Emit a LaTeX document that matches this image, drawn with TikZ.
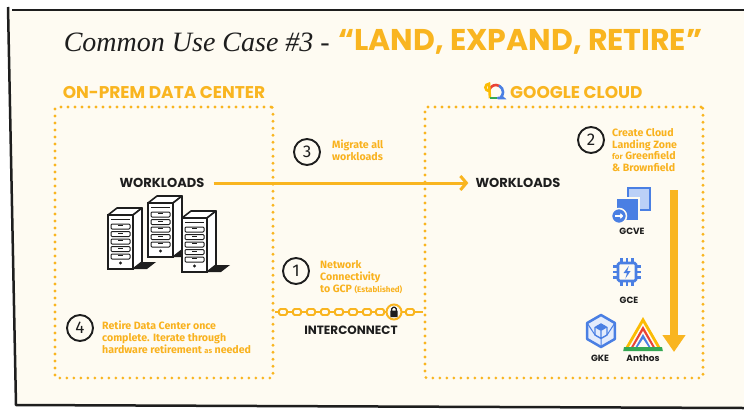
\documentclass[tikz,border=0pt]{standalone}
\usepackage{fontspec}
\setmainfont{Fira Sans}
\newfontfamily\headfont{Poppins}
\newfontfamily\titlefont{Liberation Serif}
\usetikzlibrary{arrows.meta}
\definecolor{gold}{HTML}{F9B520}
\definecolor{cream}{HTML}{FEFBF2}
\definecolor{ink}{HTML}{1E1E1E}
\definecolor{gblue}{HTML}{4A7FE3}
\definecolor{paleblue}{HTML}{BBD0F7}
\definecolor{gred}{HTML}{EA4335}
\definecolor{ggreen}{HTML}{34A853}
\definecolor{gyellow}{HTML}{FBBC04}

\begin{document}
\begin{tikzpicture}[x=1pt,y=-1pt,
    dotbox/.style={draw=gold, line width=3.2pt, line cap=round, dash pattern=on 0pt off 7pt, rounded corners=2pt, inner sep=0pt},
    heading/.style={font=\headfont\bfseries\fontsize{17}{17}\selectfont, text=gold, inner sep=0pt},
    wltext/.style={font=\headfont\bfseries\fontsize{13}{13}\selectfont, text=ink, inner sep=0pt},
    note/.style={font=\bfseries\fontsize{10.6}{11.8}\selectfont, text=gold!95!orange, align=left, inner sep=0pt, anchor=west},
    num/.style={circle, draw=ink, line width=1.9pt, minimum size=26pt, inner sep=0pt, font=\fontsize{17}{17}\selectfont, text=ink},
    icon/.style={font=\headfont\bfseries\fontsize{9}{9}\selectfont, text=ink, inner sep=0pt},
    link/.style={draw=gold, fill=cream, line width=1.8pt, rounded corners=1.5pt, minimum width=8pt, minimum height=6pt, inner sep=0pt},
    rack/.pic={
      \fill[ink] (25,54) -- (34,47) -- (48,47) -- (39,54) -- cycle; %shadow
      \draw[ink, line width=1.6pt, fill=white, line join=round] (0,0) -- (9,-7) -- (34,-7) -- (25,0) -- cycle;
      \draw[ink, line width=1.6pt, fill=white, line join=round] (25,0) -- (34,-7) -- (34,47) -- (25,54) -- cycle;
      \draw[ink, line width=1.6pt, fill=white] (0,0) rectangle (25,54);
      \draw[ink, line width=1pt] (3,4) -- (22,4);
      \foreach \s in {0,...,4} {
        \draw[ink, line width=1pt, rounded corners=1pt] (3,{9+7.5*\s}) rectangle (22,{14+7.5*\s});
        \draw[ink, line width=0.8pt] (10,{10.5+7.5*\s}) -- (15,{10.5+7.5*\s});
      }
      \fill[ink] (12.5,48) circle (1.6pt);
    }
  ]
  \useasboundingbox (0,0) rectangle (744,410);

  %Frame
  \fill[cream] (8,10) -- (744,10) -- (744,408) -- (16,405) -- cycle;
  \draw[ink, line width=2.5pt] (12,10) -- (744,10);
  \draw[ink, line width=2.5pt, line join=round] (8,7) -- (16,405) -- (744,408);

  %Title
  \node[font=\titlefont\itshape\fontsize{28}{28}\selectfont, text=ink, anchor=east, inner sep=0pt] (title) at (330,42) {Common Use Case \#3 -};
  \node[font=\headfont\bfseries\fontsize{30}{30}\selectfont, text=gold, anchor=west, inner sep=0pt] (slogan) at (338,42) {“LAND, EXPAND, RETIRE”};

  %Boxes
  \node[dotbox, minimum width=218pt, minimum height=271pt] (onprem) at (164,242.5) {};
  \node[dotbox, minimum width=278pt, minimum height=271pt] (cloud) at (564,242.5) {};
  \node[heading] (onpremhead) at (164,93) {ON-PREM DATA CENTER};
  \node[heading, anchor=west] (cloudhead) at (510,93) {GOOGLE CLOUD};

  %Cloud logo
  \draw[gred, line width=2.6pt] (489,92) arc (180:300:7);
  \draw[gblue, line width=2.6pt, line cap=round] (499.5,86) arc (300:400:7) -- (503,98) -- (498,98);
  \draw[gyellow, line width=2.6pt] (489,91) arc (90:270:3.6) -- (490,98.2);
  \draw[ggreen, line width=2.6pt] (490,98) -- (497,98);

  %Workloads
  \node[wltext] (wlonprem) at (162,183) {WORKLOADS};
  \node[wltext] (wlcloud) at (518,183) {WORKLOADS};
  \draw[gold, line width=3pt, shorten <=9pt, shorten >=7pt, -{Straight Barb[length=6pt,width=14pt]}] (wlonprem) -- (wlcloud);

  %Servers
  \pic at (148,203) {rack};
  \pic at (108,215) {rack};
  \pic at (182,218) {rack};

  %Steps
  \node[num] (n3) at (307,152) {3};
  \node[note] (t3) at (332,150) {Migrate all\\workloads};
  \node[num] (n1) at (296,271) {1};
  \node[note] (t1) at (320,277) {Network\\Connectivity\\to GCP {\fontsize{8}{11.8}\selectfont(Established)}};
  \node[num] (n2) at (591,140) {2};
  \node[note] (t2) at (612,150) {Create Cloud\\Landing Zone\\{\fontsize{8}{11.8}\selectfont for} Greenfield\\\& Brownfield};
  \node[num] (n4) at (80,328) {4};
  \node[note] (t4) at (102,337) {Retire Data Center once\\complete. Iterate through\\hardware retirement {\fontsize{7.5}{11.8}\selectfont as} needed};

  %Interconnect
  \coordinate (chainy) at (0,312);
  \draw[gold, line width=1.8pt] (onprem.east |- chainy) -- (cloud.west |- chainy);
  \foreach \x in {283,297,311,325,339,353,367,380,410}
    \node[link] (link\x) at (\x,312) {};
  \node[circle, draw=gold, fill=cream, line width=2pt, minimum size=15pt, inner sep=0pt] (lock) at (394,312) {};
  \draw[ink, line width=1.2pt, rounded corners=1.5pt] (391.8,311) -- (391.8,307.2) -- (396.2,307.2) -- (396.2,311);
  \fill[ink, rounded corners=0.5pt] (390.3,310.5) rectangle (397.7,317);
  \node[wltext, font=\headfont\bfseries\fontsize{12}{12}\selectfont] (interconnect) at (351,330) {INTERCONNECT};

  %Landing zone arrow
  \coordinate (zonetop) at (674,190);
  \coordinate (zonebot) at (674,352);
  \draw[gold, line width=8pt, -{Triangle[length=17pt,width=22pt]}] (zonetop) -- (zonebot);

  %GCVE
  \draw[gblue, line width=2.2pt, fill=paleblue] (628,188) rectangle (650,210);
  \filldraw[fill=gblue, draw=cream, line width=1.5pt] (616,198) rectangle (639,221);
  \filldraw[fill=gblue, draw=cream, line width=1.5pt] (619,216) circle (7.5pt);
  \draw[white, line width=1.3pt, -{Straight Barb[length=2pt,width=4.5pt]}] (615.2,216) -- (623.2,216);
  \node[icon] (gcve) at (632,231) {GCVE};

  %GCE
  \draw[gblue, line width=2.8pt, rounded corners=1.5pt] (618,263) rectangle (636,281);
  \foreach \p in {-5.5,0,5.5} {
    \draw[gblue, line width=2.3pt] ({627+\p},263) -- ({627+\p},258);
    \draw[gblue, line width=2.3pt] ({627+\p},281) -- ({627+\p},286);
    \draw[gblue, line width=2.3pt] (618,{272+\p}) -- (613,{272+\p});
    \draw[gblue, line width=2.3pt] (636,{272+\p}) -- (641,{272+\p});
  }
  \fill[gblue] (628.8,266) -- (623.5,273) -- (627,273) -- (625.4,278.5) -- (630.6,271) -- (627.2,271) -- cycle;
  \node[icon] (gce) at (629,300) {GCE};

  %GKE
  \draw[gblue, line width=2.5pt, fill=paleblue!40, line join=round] (601,331) +(90:16) -- +(150:16) -- +(210:16) -- +(270:16) -- +(330:16) -- +(30:16) -- cycle;
  \draw[gblue, line width=1pt] (601,331) +(210:16) -- (595,335) (601,331) +(330:16) -- (607,335) (601,331) +(90:16) -- (601,338.5);
  \fill[gblue] (601,324) -- (607,327.5) -- (601,331) -- (595,327.5) -- cycle;
  \draw[gblue, line width=1.4pt, line join=round] (601,324) -- (607,327.5) -- (607,335) -- (601,338.5) -- (595,335) -- (595,327.5) -- cycle (601,331) -- (601,338.5);
  \node[icon] (gke) at (600,358) {GKE};

  %Anthos
  \fill[gyellow] (643,317) -- (662,350) -- (624,350) -- cycle;
  \fill[cream] (643,323) -- (657.5,348) -- (628.5,348) -- cycle;
  \fill[gred] (643,326) -- (656,349) -- (630,349) -- cycle;
  \fill[cream] (643,331) -- (653,348) -- (633,348) -- cycle;
  \fill[gblue] (643,334) -- (651.5,349) -- (634.5,349) -- cycle;
  \fill[cream] (643,339) -- (649,348) -- (637,348) -- cycle;
  \fill[ggreen] (624,347) -- (662,347) -- (662.8,351) -- (623.2,351) -- cycle;
  \node[icon] (anthos) at (643,358) {Anthos};
\end{tikzpicture}
\end{document}
